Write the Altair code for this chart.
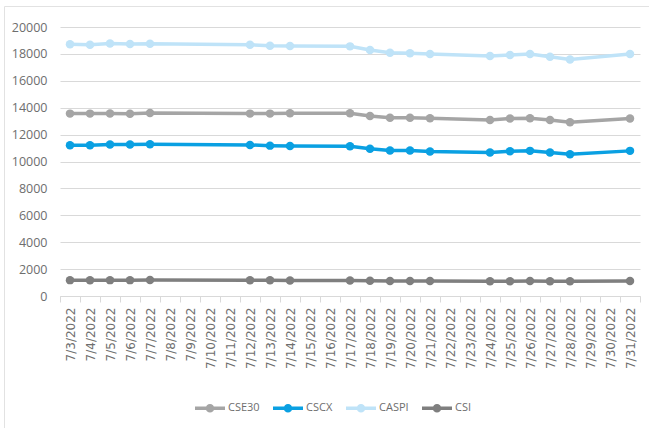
import altair as alt
import pandas as pd

# Every calendar day shown on the category axis
all_days = [
    "7/3/2022", "7/4/2022", "7/5/2022", "7/6/2022", "7/7/2022", "7/8/2022",
    "7/9/2022", "7/10/2022", "7/11/2022", "7/12/2022", "7/13/2022", "7/14/2022",
    "7/15/2022", "7/16/2022", "7/17/2022", "7/18/2022", "7/19/2022", "7/20/2022",
    "7/21/2022", "7/22/2022", "7/23/2022", "7/24/2022", "7/25/2022", "7/26/2022",
    "7/27/2022", "7/28/2022", "7/29/2022", "7/30/2022", "7/31/2022",
]

# Days with index readings
trading_days = [
    "7/3/2022", "7/4/2022", "7/5/2022", "7/6/2022", "7/7/2022",
    "7/12/2022", "7/13/2022", "7/14/2022",
    "7/17/2022", "7/18/2022", "7/19/2022", "7/20/2022", "7/21/2022",
    "7/24/2022", "7/25/2022", "7/26/2022", "7/27/2022", "7/28/2022",
    "7/31/2022",
]

cse30 = [13560, 13560, 13570, 13550, 13610, 13560, 13560, 13580, 13580, 13390,
         13260, 13260, 13210, 13090, 13190, 13210, 13090, 12910, 13190]
cscx = [11200, 11210, 11270, 11260, 11280, 11230, 11180, 11150, 11140, 10940,
        10820, 10810, 10750, 10670, 10770, 10790, 10670, 10540, 10790]
caspi = [18710, 18680, 18780, 18730, 18760, 18680, 18610, 18580, 18560, 18290,
         18090, 18040, 17990, 17840, 17910, 17990, 17790, 17590, 17990]
csi = [1180, 1175, 1180, 1180, 1185, 1170, 1165, 1160, 1160, 1140,
       1120, 1115, 1110, 1100, 1105, 1110, 1100, 1090, 1110]

series_names = ["CSE30", "CSCX", "CASPI", "CSI"]
series_colors = ["#A5A5A5", "#0AA0E2", "#BFE3F8", "#7F7F7F"]

frames = []
for name, values in zip(series_names, [cse30, cscx, caspi, csi]):
    frames.append(pd.DataFrame({"day": trading_days, "index": name, "value": values}))
df = pd.concat(frames, ignore_index=True)

FONT = "Open Sans"
TEXT = "#6E6E6E"
GRID = "#D9D9D9"

# Legend glyph: a short line with a dot in the middle
legend_glyph = ("M-1,0 L1,0 M-0.17,0 A0.17,0.17 0 1,0 0.17,0 "
                "A0.17,0.17 0 1,0 -0.17,0")

# Thin frame around the whole chart
frame = alt.Chart(pd.DataFrame({"f": [0]})).mark_rect(
    fillOpacity=0, stroke="#E2E2E2", strokeWidth=1
).encode(
    x=alt.value(-55.5), y=alt.value(-20.5), x2=alt.value(700), y2=alt.value(500)
)

lines = alt.Chart(df).mark_line(
    strokeWidth=3.5,
    point=alt.OverlayMarkDef(filled=True, size=72, opacity=1),
).encode(
    x=alt.X(
        "day:N",
        sort=all_days,
        scale=alt.Scale(type="band", domain=all_days, paddingInner=0, paddingOuter=0),
        bandPosition=0.5,
        title=None,
        axis=alt.Axis(
            labelAngle=-90,
            labelFont="DejaVu Sans",
            labelFontSize=12,
            labelColor=TEXT,
            labelPadding=5,
            tickBand="extent",
            tickSize=6,
            tickColor=GRID,
            domainColor=GRID,
            domainWidth=1,
            grid=False,
        ),
    ),
    y=alt.Y(
        "value:Q",
        scale=alt.Scale(domain=[0, 20000], nice=False),
        title=None,
        axis=alt.Axis(
            values=list(range(0, 20001, 2000)),
            format="d",
            labelFont=FONT,
            labelFontSize=12.5,
            labelColor=TEXT,
            labelPadding=13,
            ticks=False,
            domain=False,
            gridColor=GRID,
            gridWidth=1,
        ),
    ),
    color=alt.Color(
        "index:N",
        sort=series_names,
        scale=alt.Scale(domain=series_names, range=series_colors),
        legend=alt.Legend(
            title=None,
            orient="none",
            direction="horizontal",
            legendX=133,
            legendY=364,
            symbolType=legend_glyph,
            symbolSize=900,
            symbolStrokeWidth=3.5,
            labelFont=FONT,
            labelFontSize=11,
            labelColor=TEXT,
            labelOffset=1,
            columnPadding=6,
            padding=0,
        ),
    ),
    order=alt.Order("index:N"),
)

chart = alt.layer(frame, lines).properties(
    width=580,
    height=269,
    autosize=alt.AutoSizeParams(type="none"),
    padding={"left": 60, "top": 27, "right": 9, "bottom": 132},
    background="white",
).configure_view(stroke=None)

chart.save("out.html", embed_options={"renderer": "svg", "actions": False})
